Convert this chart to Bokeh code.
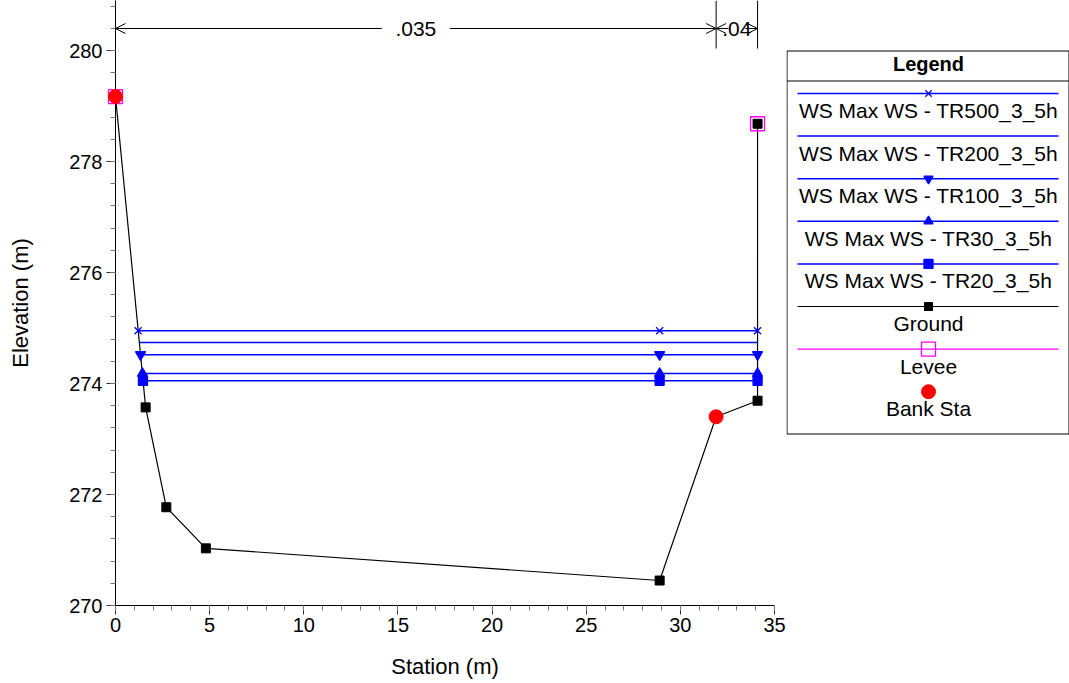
from bokeh.plotting import figure
from bokeh.models import Range1d, FixedTicker, Arrow, OpenHead, Label
from bokeh.layouts import row
from bokeh.embed import file_html
from bokeh.resources import INLINE
from bokeh.core.properties import value

# ---------------- data ----------------
ground_sta = [0.0, 1.6, 2.7, 4.8, 28.9, 31.9, 34.1, 34.1]
ground_elev = [279.17, 273.57, 271.77, 271.03, 270.45, 273.40, 273.69, 278.68]
levee_sta = [0.0, 34.1]
levee_elev = [279.17, 278.68]
bank_sta = [0.0, 31.9]
bank_elev = [279.17, 273.40]

ws_names = ["WS Max WS - TR500_3_5h", "WS Max WS - TR200_3_5h", "WS Max WS - TR100_3_5h",
            "WS Max WS - TR30_3_5h", "WS Max WS - TR20_3_5h"]
ws_elev = [274.95, 274.74, 274.52, 274.18, 274.05]
ws_left = [1.20, 1.26, 1.33, 1.43, 1.46]
ws_right = [34.1, 34.1, 34.1, 34.1, 34.1]
ws_mid = [28.9, None, 28.9, 28.9, 28.9]
ws_markers = ["x", None, "inverted_triangle", "triangle", "square"]

n_sta = [0.0, 31.9, 34.1]
n_vals = [".035", ".04"]

x_ticks = [0, 5, 10, 15, 20, 25, 30, 35]
y_ticks = [270, 272, 274, 276, 278, 280]
x_title = "Station (m)"
y_title = "Elevation (m)"

FONT = "Liberation Sans"
BLUE = "#0000FF"
MAGENTA = "#FF00FF"
RED = "#FF0000"

# ---------------- layout geometry (window pixels) ----------------
WIN_W, WIN_H = 1069, 683
FRAME_L, FRAME_R = 115, 774            # station 0 .. 35
FRAME_T, FRAME_B = 0, 605
MAIN_W = FRAME_R + 12
LEG_W = WIN_W - MAIN_W
Y_PPU = 55.5
PPU = (FRAME_R - FRAME_L) / 35.0
y_end = 270 + (FRAME_B - FRAME_T) / Y_PPU

p = figure(width=MAIN_W, height=WIN_H, output_backend="svg", toolbar_location=None,
           x_range=Range1d(0, 35), y_range=Range1d(270, y_end),
           min_border_left=FRAME_L, min_border_right=MAIN_W - FRAME_R, min_border_top=0,
           min_border_bottom=WIN_H - FRAME_B)
p.grid.visible = False
p.outline_line_color = None
p.background_fill_color = "white"

p.xaxis.ticker = FixedTicker(ticks=x_ticks, minor_ticks=list(range(0, 36)))
p.yaxis.ticker = FixedTicker(ticks=y_ticks, minor_ticks=[270 + 0.4 * i for i in range(28)])
p.xaxis.axis_label = x_title
p.yaxis.axis_label = y_title
for ax in (p.xaxis, p.yaxis):
    ax.axis_label_text_font = FONT
    ax.axis_label_text_font_size = "22px"
    ax.axis_label_text_font_style = "normal"
    ax.axis_label_text_color = "black"
    ax.major_label_text_font = FONT
    ax.major_label_text_font_size = "20px"
    ax.major_label_text_color = "black"
    ax.axis_line_color = "black"
    ax.major_tick_line_color = "#333333"
    ax.minor_tick_line_color = "#777777"
    ax.major_tick_out = 9
    ax.major_tick_in = 0
    ax.minor_tick_out = 5
    ax.minor_tick_in = 0
p.xaxis.major_label_standoff = 3
p.xaxis.axis_label_standoff = 19
p.yaxis.major_label_standoff = 4
p.yaxis.axis_label_standoff = 33

# water surface lines
for i in range(len(ws_names)):
    p.line([ws_left[i], ws_right[i]], [ws_elev[i], ws_elev[i]], line_color=BLUE, line_width=1.5)

# ground line
p.line(ground_sta, ground_elev, line_color="black", line_width=1.2)

# water surface markers
for i in range(len(ws_names)):
    if ws_markers[i] is None:
        continue
    xs = [ws_left[i], ws_mid[i], ws_right[i]]
    ys = [ws_elev[i]] * 3
    sz = 10 if ws_markers[i] != "square" else 9
    p.scatter(xs, ys, marker=ws_markers[i], size=sz, fill_color=BLUE, line_color=BLUE, line_width=1.3)

# levee
p.scatter(levee_sta, levee_elev, marker="square", size=14, fill_color=None, line_color=MAGENTA,
          line_width=1.3, level="overlay")
# ground markers (the top-left and bank-station points are covered by the red circles)
gx = [s for k, s in enumerate(ground_sta) if k not in (0, 5)]
gy = [e for k, e in enumerate(ground_elev) if k not in (0, 5)]
p.scatter(gx, gy, marker="square", size=9, fill_color="black", line_color="black", level="overlay")
# bank stations
p.scatter(bank_sta, bank_elev, marker="circle", size=14, fill_color=RED, line_color=RED, level="overlay")

# Manning's n markers at top
y_top = y_end
y_bar_bottom = 270 + (FRAME_B - 48) / Y_PPU
y_arrow = 270 + (FRAME_B - 28) / Y_PPU
for s in n_sta:
    p.line([s, s], [y_bar_bottom, y_top], line_color="black", line_width=1)
for i, txt in enumerate(n_vals):
    a, b = n_sta[i], n_sta[i + 1]
    mid = (a + b) / 2.0
    half = (len(txt) * 7.5 + 4) / PPU if i == 0 else 0.45
    p.add_layout(Label(x=mid, y=y_arrow, text=txt, text_align="center", text_baseline="middle",
                       text_font=FONT, text_font_size="21px", text_color="black",
                       background_fill_color="white" if i == 0 else None))
    p.add_layout(Arrow(x_start=mid - half, y_start=y_arrow, x_end=a, y_end=y_arrow,
                       end=OpenHead(size=10, line_width=1), line_width=1, line_color="black"))
    p.add_layout(Arrow(x_start=mid + half, y_start=y_arrow, x_end=b, y_end=y_arrow,
                       end=OpenHead(size=10, line_width=1), line_width=1, line_color="black"))

# ---------------- legend panel (window-pixel coordinates) ----------------
lg = figure(width=LEG_W, height=WIN_H, output_backend="svg", toolbar_location=None,
            x_range=Range1d(MAIN_W, WIN_W), y_range=Range1d(FRAME_B, FRAME_T),
            x_axis_type=None, y_axis_type=None,
            min_border_left=0, min_border_right=0, min_border_top=0, min_border_bottom=WIN_H - FRAME_B)
lg.grid.visible = False
lg.outline_line_color = None

box_l, box_r, box_t, box_b = MAIN_W + 0.5, WIN_W - 0.5, 50.5, 433.5
lg.quad(left=box_l, right=box_r, top=box_t, bottom=box_b, fill_color="white", line_color="black", line_width=1)
lg.line([box_l, box_r], [80.5, 80.5], line_color="black", line_width=1)
cx = 928
lg.text(x=[cx], y=[63.5], text=["Legend"], text_align="center", text_baseline="middle",
        text_font=value(FONT), text_font_size="20px", text_font_style="bold", text_color="black")

leg_labels = ws_names + ["Ground", "Levee", "Bank Sta"]
leg_colors = [BLUE] * 5 + ["black", MAGENTA, None]
leg_markers = ws_markers + ["square", "square", "circle"]
step = 42.6
for i, lab in enumerate(leg_labels):
    ly = 93 + step * i
    ty = ly + 17
    if leg_colors[i] is not None:
        lg.line([797, 1058], [ly, ly], line_color=leg_colors[i], line_width=1.5 if i < 5 else 1.2)
    m = leg_markers[i]
    if m is not None:
        if lab == "Levee":
            lg.scatter([cx], [ly], marker="square", size=14, fill_color=None, line_color=MAGENTA, line_width=1.3)
        elif lab == "Bank Sta":
            lg.scatter([cx], [ly], marker="circle", size=14, fill_color=RED, line_color=RED)
        elif lab == "Ground":
            lg.scatter([cx], [ly], marker="square", size=8, fill_color="black", line_color="black")
        else:
            lg.scatter([cx], [ly], marker=m, size=9, fill_color=BLUE, line_color=BLUE, line_width=1.3)
    lg.text(x=[cx], y=[ty], text=[lab], text_align="center", text_baseline="middle",
            text_font=value(FONT), text_font_size="21px", text_color="black")

layout = row(p, lg, spacing=0)
open("out.html", "w").write(file_html(layout, INLINE))
